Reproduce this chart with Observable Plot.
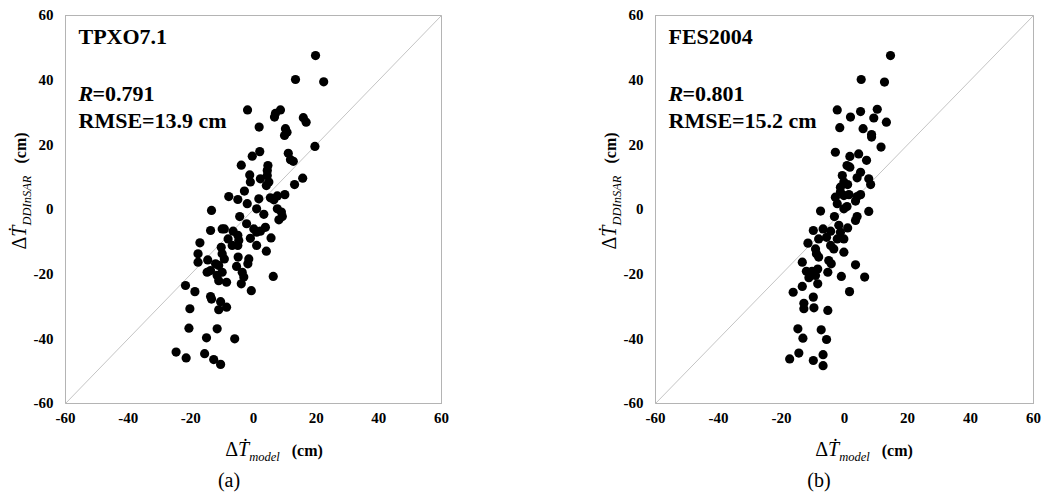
<!DOCTYPE html>
<html>
<head>
<meta charset="utf-8">
<script src="https://cdn.jsdelivr.net/npm/d3@7"></script>
<script src="https://cdn.jsdelivr.net/npm/@observablehq/plot@0.6"></script>
<style>
  body { margin: 0; background: #fff; }
  #root { position: relative; width: 1046px; height: 492px; overflow: hidden; background: #fff; font-family: "Liberation Serif", "Times New Roman", serif; }
  .panel { position: absolute; top: 0; }
  .lab { position: absolute; white-space: nowrap; transform: translate(-50%, -50%); font-family: "Liberation Serif", "Times New Roman", serif; color: #000; line-height: 1; }
  .ylab { transform: translate(-50%, -50%) rotate(-90deg); }
  .dt { font-size: 20px; }
  .sub { font-size: 12.5px; font-style: italic; vertical-align: -5px; }
  .cm { font-size: 16px; font-weight: bold; margin-left: 12px; }
  .cap { font-size: 20px; }
</style>
</head>
<body>
<div id="root"></div>
<script>
// ---- data ----
const tickValues = [-60, -40, -20, 0, 20, 40, 60];
const oneToOne = [-60, 60];
const panelNames = ["TPXO7.1", "FES2004"];
const rValues = ["0.791", "0.801"];
const rmseValues = ["13.9", "15.2"];
const captions = ["(a)", "(b)"];

const tpxoX = [19.8,13.4,22.4,-1.9,7.0,8.6,6.7,15.9,16.8,1.8,10.2,10.7,9.9,19.6,2.0,-0.4,11.1,11.8,12.7,-3.9,4.6,4.4,-1.2,-1.0,2.2,4.4,4.9,4.1,15.7,13.1,-2.9,-7.9,-5.0,1.7,5.4,7.6,10.0,6.5,-13.4,-2.0,1.0,-4.4,3.3,7.6,8.9,9.2,8.1,
  -13.7,-10,-9.3,-6.5,-8.1,-5,-4.7,-2.2,0.1,1,2.2,-1,1,3.8,5.6,4.1,-17.1,-17.7,-17.7,-14.6,-10.3,-10,-9.3,-12.1,-11.1,-13.7,-14.8,-11.6,-10,-11.1,-8.6,-6.8,-5,-4.9,-5.4,-1.5,-1.8,-3.6,-3.1,-3.9,6.3,-0.7,-21.7,-18.7,-13.7,-13.4,-10.5,-8.6,-11.1,-20.3,-20.6,-11.6,-15,-6,-24.7,-21.5,-15.6,-12.7,-10.5];
const tpxoY = [47.6,40.2,39.5,30.8,29.7,30.8,28.6,28.4,27.0,25.5,25.0,23.9,22.9,19.5,17.9,16.5,17.4,15.4,14.9,13.7,13.6,12.1,10.7,8.5,9.5,10.5,8.5,7.4,9.7,7.7,5.7,4.0,3.1,3.3,3.6,4.2,4.6,3.0,-0.3,1.8,0.2,-2.2,-1.5,0.2,-0.8,-2.2,-3.2,
  -6.5,-6,-6,-6.7,-9.1,-8,-9.6,-4.4,-6,-7,-6.7,-8.9,-11.1,-5.5,-8.8,-12.9,-10.3,-13.7,-16.3,-15.6,-11.7,-13.7,-15.3,-16.8,-17.3,-18.9,-19.4,-20.4,-19.4,-22,-22.5,-11.1,-11.1,-14.7,-17.6,-15.3,-16.8,-19.4,-20.9,-23,-20.7,-25.1,-23.5,-25.4,-26.9,-27.7,-28.5,-30.2,-31,-30.7,-36.7,-36.9,-39.7,-40,-44.1,-45.9,-44.6,-46.4,-47.9];

const fesX = [14.6,5.3,12.7,-2.3,1.9,5.1,10.4,9.3,13.3,-1.5,5.9,8.6,8.6,11.6,-2.9,1.7,4.5,7,0.8,1.7,5.1,4,-0.7,-0.2,1,-1.3,7.7,8.3,-1.3,1.4,-2.9,-2.3,0.8,4,-0.2,-7.6,-3.2,4,7.7,3.5,3.5,-0.2,5.1,
  -9.9,-6.8,-4.4,-1.8,-1.3,1,-0.2,-2.3,-5.7,-11.6,-8.2,-9.2,-8.9,-8.2,-4.4,-3.4,-0.2,-13.4,-5,-4.2,3.5,-12.1,-10.3,-8.5,-11.3,-9.2,-8.5,-5.3,-1,6.4,-16.3,-13.4,1.6,-9.9,-12.9,-12.9,-9.7,-5.3,-14.8,-7.4,-13.2,-5.7,-17.4,-14.5,-9.9,-6.8,-6.8];
const fesY = [47.6,40.2,39.4,30.8,28.6,30.3,31,28.3,27,25.3,25,23.2,22.4,19.3,17.7,16.4,17.2,15.2,13.6,13.1,11.5,9.8,10.5,8.5,7.7,6.9,9.5,7.7,5.4,4.6,3.8,1.8,0.9,4,0.2,-0.5,-2.2,-2.2,-0.6,2.6,-3.4,4.3,4.6,
  -6.5,-6,-6.7,-4.9,-7,-5.7,-9.1,-9.1,-8.6,-10.4,-9.1,-12.2,-13.7,-14.7,-11.1,-12.2,-13.2,-16.3,-15.8,-16.8,-17.1,-19.1,-19.1,-18.4,-21.1,-20.4,-23,-19.4,-20.7,-20.9,-25.6,-23.8,-25.4,-27.1,-29,-30.7,-30.4,-31.2,-36.9,-37.2,-39.8,-40.2,-46.2,-44.4,-46.7,-44.9,-48.3];

const panels = [
  {xs: tpxoX, ys: tpxoY, left: 0, width: 460, marginRight: 19},
  {xs: fesX, ys: fesY, left: 590, width: 456, marginRight: 13}
];

const root = document.getElementById("root");
const font = "Liberation Serif, Times New Roman, serif";

panels.forEach((p, i) => {
  const pts = p.xs.map((x, k) => ({x, y: p.ys[k]}));
  const diag = oneToOne.map(v => ({x: v, y: v}));
  const svg = Plot.plot({
    width: p.width,
    height: 432,
    marginLeft: 65,
    marginRight: p.marginRight,
    marginTop: 15,
    marginBottom: 29,
    style: {fontFamily: font, fontSize: "15px", fontWeight: "bold", background: "#fff", color: "#000", overflow: "visible"},
    x: {domain: oneToOne, ticks: tickValues, tickFormat: d => String(d), tickSize: 0, tickPadding: 9, label: null},
    y: {domain: oneToOne, ticks: tickValues, tickFormat: d => String(d), tickSize: 0, tickPadding: 12, label: null},
    marks: [
      Plot.frame({stroke: "#b4b4b4", strokeWidth: 1}),
      Plot.line(diag, {x: "x", y: "y", stroke: "#c4c4c4", strokeWidth: 1}),
      Plot.dot(pts, {x: "x", y: "y", r: 4.6, fill: "#000", stroke: "none"}),
      Plot.text([panelNames[i]], {frameAnchor: "top-left", dx: 13, dy: 28, text: d => d, textAnchor: "start", lineAnchor: "bottom", fontSize: 22, fontWeight: "bold", fontFamily: font, fill: "#000"}),
      Plot.text(["R"], {frameAnchor: "top-left", dx: 13, dy: 85, text: d => d, textAnchor: "start", lineAnchor: "bottom", fontSize: 22, fontStyle: "italic", fontWeight: "bold", fontFamily: font, fill: "#000"}),
      Plot.text([rValues[i]], {frameAnchor: "top-left", dx: 27, dy: 85, text: d => "=" + d, textAnchor: "start", lineAnchor: "bottom", fontSize: 22, fontWeight: "bold", fontFamily: font, fill: "#000"}),
      Plot.text([rmseValues[i]], {frameAnchor: "top-left", dx: 13, dy: 112, text: d => "RMSE=" + d + " cm", textAnchor: "start", lineAnchor: "bottom", fontSize: 22, fontWeight: "bold", fontFamily: font, fill: "#000"})
    ]
  });
  const wrap = document.createElement("div");
  wrap.className = "panel";
  wrap.style.left = p.left + "px";
  wrap.appendChild(svg);
  root.appendChild(wrap);

  const ylab = document.createElement("div");
  ylab.className = "lab ylab";
  ylab.style.left = (p.left + 21) + "px";
  ylab.style.top = "191px";
  ylab.innerHTML = '<span class="dt">Δ<i>Ṫ</i></span><span class="sub">DDInSAR</span><span class="cm">(cm)</span>';
  root.appendChild(ylab);

  const xlab = document.createElement("div");
  xlab.className = "lab";
  xlab.style.left = (p.left + 274) + "px";
  xlab.style.top = "451px";
  xlab.innerHTML = '<span class="dt">Δ<i>Ṫ</i></span><span class="sub">model</span><span class="cm">(cm)</span>';
  root.appendChild(xlab);

  const cap = document.createElement("div");
  cap.className = "lab cap";
  cap.style.left = (p.left + 229) + "px";
  cap.style.top = "480px";
  cap.textContent = captions[i];
  root.appendChild(cap);
});
</script>
</body>
</html>
